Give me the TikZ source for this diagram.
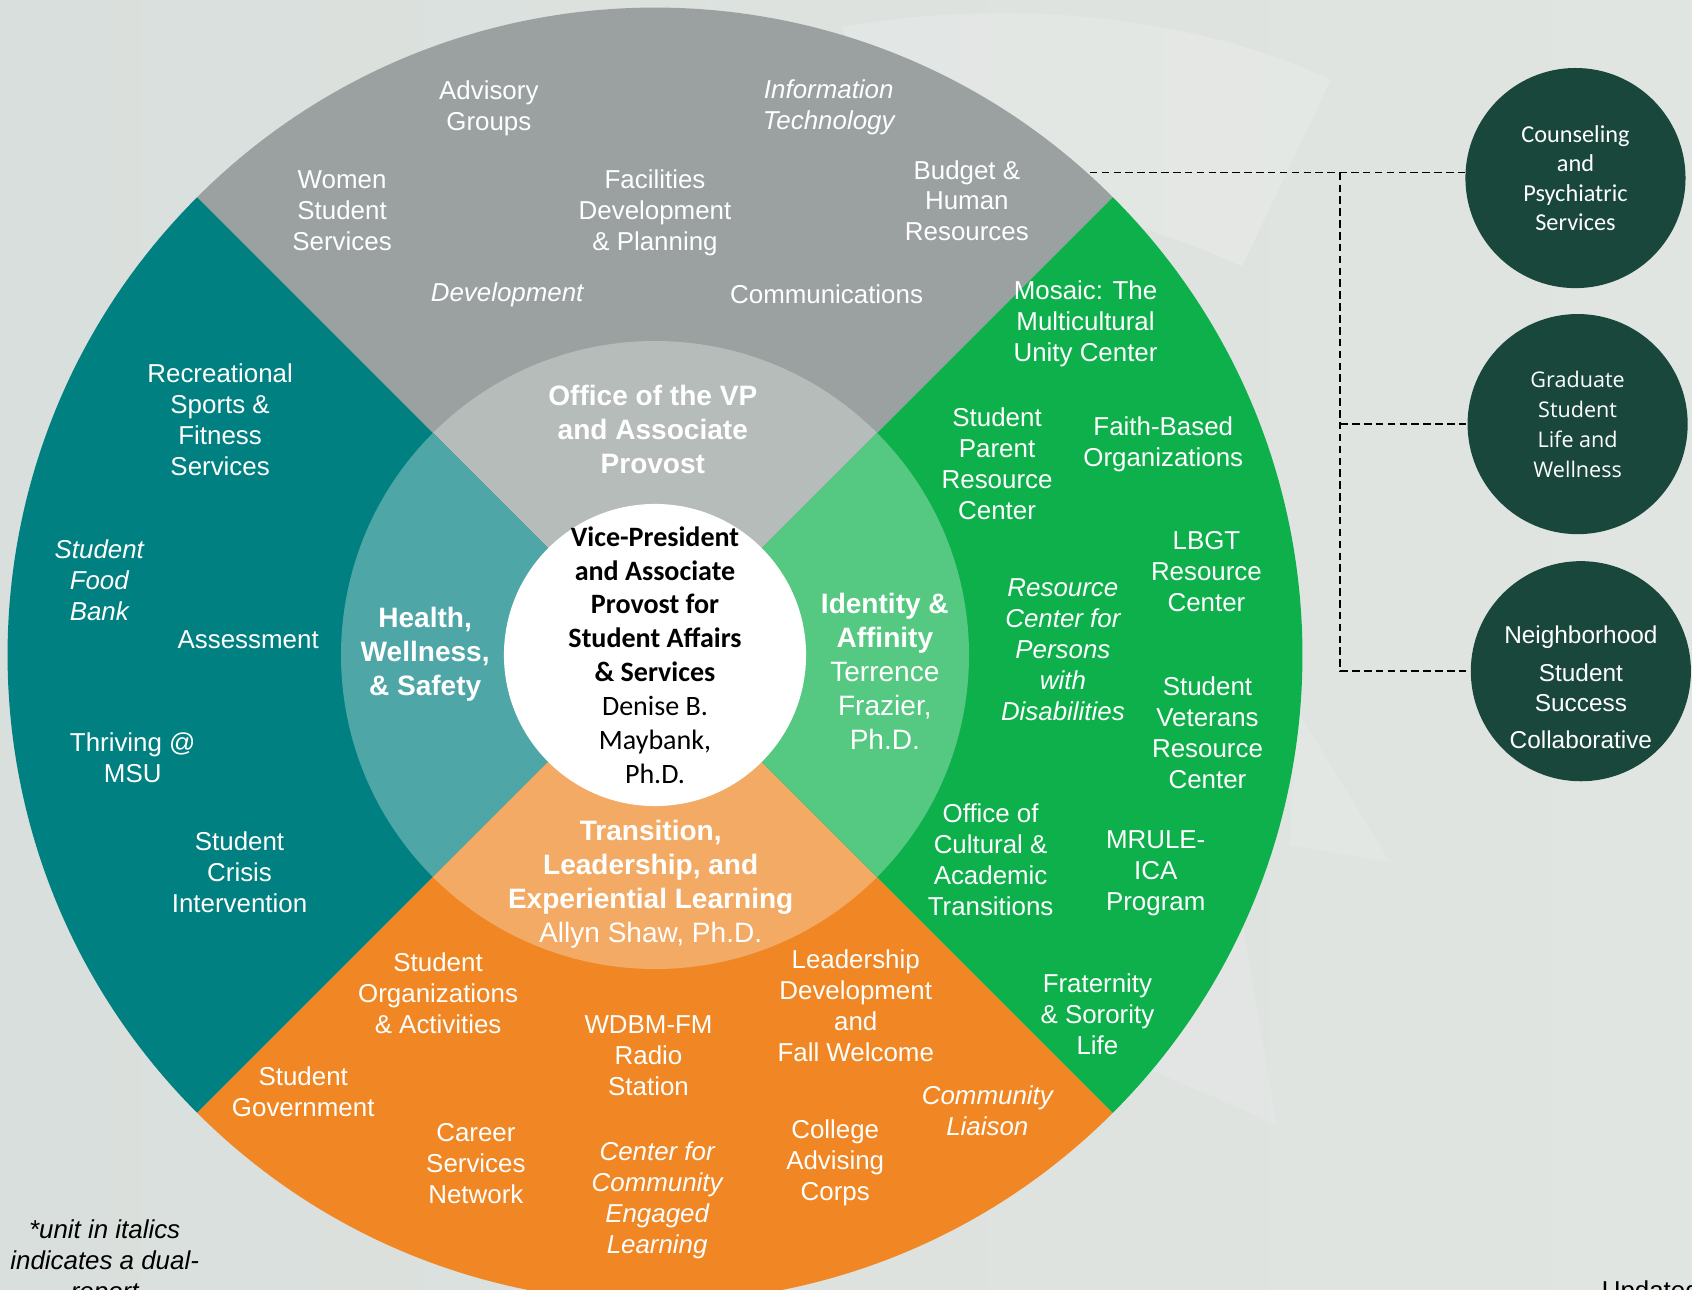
\documentclass[tikz,border=0pt]{standalone}
\usepackage{fontspec}
\setmainfont{Liberation Sans}
\newfontfamily\calibrifont{Carlito}
\newfontfamily\opensansfont{Open Sans}
\definecolor{bgL}{HTML}{D9DFDC}
\definecolor{bgR}{HTML}{E1E5E2}
\definecolor{grayA}{HTML}{9AA1A0}
\definecolor{grayB}{HTML}{B6BCBA}
\definecolor{tealA}{HTML}{008080}
\definecolor{tealB}{HTML}{4EA6A7}
\definecolor{orangeA}{HTML}{F08724}
\definecolor{orangeB}{HTML}{F3AA64}
\definecolor{greenA}{HTML}{0DB04B}
\definecolor{greenB}{HTML}{55C881}
\definecolor{hubgreen}{HTML}{19473C}

\begin{document}
\begin{tikzpicture}[x=0.5pt,y=0.5pt,
    unit/.style={text=white,align=center,inner sep=0pt,font=\fontsize{12}{14.35}\selectfont},
    dual/.style={unit,font=\fontsize{12}{14.35}\selectfont\itshape},
    head/.style={text=white,align=center,inner sep=0pt,font=\fontsize{13}{15.75}\selectfont},
    hub/.style={circle,fill=hubgreen,text=white,align=center,inner sep=0pt,minimum size=102pt},
    link/.style={dash pattern=on 3.5pt off 2pt,line width=0.75pt},
    glare/.style={white,opacity=0.16}]
    \useasboundingbox (0,0) rectangle (1568,-1195);
    \shade[left color=bgL,right color=bgR] (0,0) rectangle (1568,-1195);
    \fill[glare] (780,-25) .. controls (950,5) and (1120,-20) .. (1233,-74) -- (1151,-247) .. controls (1050,-200) and (950,-180) .. (850,-190) -- cycle;
    \fill[glare,opacity=0.12] (1201,-656) -- (1288,-799) -- (1195,-783) -- cycle;
    \fill[glare,opacity=0.1] (1152,-858) -- (1183,-1042) -- (1065,-991) -- cycle;
    \coordinate (O) at (607,-607);
    \foreach \a/\oc/\ic in {45/grayA/grayB,135/tealA/tealB,225/orangeA/orangeB,315/greenA/greenB}{
        \fill[\oc] (O) -- ++(\a:600) arc[start angle=\a,delta angle=90,radius=600] -- cycle;
        \fill[\ic] (O) -- ++(\a:291) arc[start angle=\a,delta angle=90,radius=291] -- cycle;
    }
    \fill[white] (O) circle[radius=140];

    \node[align=center,inner sep=0pt,font=\calibrifont\fontsize{13}{15.7}\selectfont] (vp) at (O) {\textbf{Vice-President}\\\textbf{and Associate}\\\textbf{Provost for}\\\textbf{Student Affairs}\\\textbf{\& Services}\\Denise B.\\Maybank,\\Ph.D.};
    \node[head] (ovp) at (605,-398) {\textbf{Office of the VP}\\\textbf{and Associate}\\\textbf{Provost}};
    \node[head] (hws) at (394,-606) {\textbf{Health,}\\\textbf{Wellness,}\\\textbf{\& Safety}};
    \node[head] (ia) at (820,-622) {\textbf{Identity \&}\\\textbf{Affinity}\\Terrence\\Frazier,\\Ph.D.};
    \node[head] (tle) at (603,-819) {\textbf{Transition,}\\\textbf{Leadership, and}\\\textbf{Experiential Learning}\\Allyn Shaw, Ph.D.};

    \node[unit] (adv) at (453,-100) {Advisory\\Groups};
    \node[dual] (it) at (768,-99) {Information\\Technology};
    \node[unit] (wss) at (317,-195) {Women\\Student\\Services};
    \node[unit] (fdp) at (607,-197) {Facilities\\Development\\\& Planning};
    \node[unit] (bhr) at (896,-186) {Budget \&\\Human\\Resources};
    \node[dual] (dev) at (470,-273) {Development};
    \node[unit] (com) at (766,-273) {Communications};

    \node[unit] (rsf) at (204,-389) {Recreational\\Sports \&\\Fitness\\Services};
    \node[dual] (sfb) at (92,-538) {Student\\Food\\Bank};
    \node[unit] (ass) at (230,-593) {Assessment};
    \node[unit] (thr) at (123,-702) {Thriving @\\MSU};
    \node[unit] (sci) at (222,-808) {Student\\Crisis\\Intervention};

    \node[unit] (soa) at (406,-920) {Student\\Organizations\\\& Activities};
    \node[unit] (wdbm) at (601,-978) {WDBM-FM\\Radio\\Station};
    \node[unit] (ldf) at (793,-932) {Leadership\\Development\\and\\Fall Welcome};
    \node[unit] (sg) at (281,-1012) {Student\\Government};
    \node[unit] (csn) at (441,-1078) {Career\\Services\\Network};
    \node[dual] (cce) at (609,-1112) {Center for\\Community\\Engaged\\Learning};
    \node[unit] (cac) at (774,-1078) {College\\Advising\\Corps};
    \node[dual] (cl) at (915,-1029) {Community\\Liaison};

    \node[unit] (mos) at (1006,-300) {Mosaic: The\\Multicultural\\Unity Center};
    \node[unit] (spr) at (924,-430) {Student\\Parent\\Resource\\Center};
    \node[unit] (fbo) at (1078,-412) {Faith-Based\\Organizations};
    \node[unit] (lbgt) at (1118,-530) {LBGT\\Resource\\Center};
    \node[dual] (rcpd) at (985,-602) {Resource\\Center for\\Persons\\with\\Disabilities};
    \node[unit] (svr) at (1119,-679) {Student\\Veterans\\Resource\\Center};
    \node[unit] (ocat) at (918,-797) {Office of\\Cultural \&\\Academic\\Transitions};
    \node[unit] (mrule) at (1071,-809) {MRULE-\\ICA\\Program};
    \node[unit] (fsl) at (1017,-940) {Fraternity\\\& Sorority\\Life};

    \node[hub,font=\calibrifont\fontsize{11.25}{13.65}\selectfont] (caps) at (1460,-165) {Counseling\\and\\Psychiatric\\Services};
    \node[hub,font=\opensansfont\fontsize{10}{13.85}\selectfont] (gslw) at (1462,-393) {Graduate\\Student\\Life and\\Wellness};
    \node[hub] (nssc) at (1465,-622) {};
    \node[unit,font=\fontsize{11.3}{14}\selectfont] (nsscT) at ([yshift=-7.5pt]nssc.center) {Neighborhood\\[3.5pt]Student\\Success\\[3pt]Collaborative};

    \coordinate (tap) at (1010,-160);
    \coordinate (bus) at (1242,-160);
    \draw[link] (tap) -- (tap -| caps.west);
    \draw[link] (bus) |- (nssc.west);
    \draw[link] (bus |- gslw.west) -- (gslw.west);

    \node[align=center,inner sep=0pt,font=\fontsize{12}{14.35}\selectfont\itshape] (note) at (97,-1170) {*unit in italics\\indicates a dual-\\report};
    \node[anchor=north west,inner sep=0pt,font=\fontsize{12}{14.35}\selectfont] (upd) at (1484,-1186) {Updated};
\end{tikzpicture}
\end{document}
